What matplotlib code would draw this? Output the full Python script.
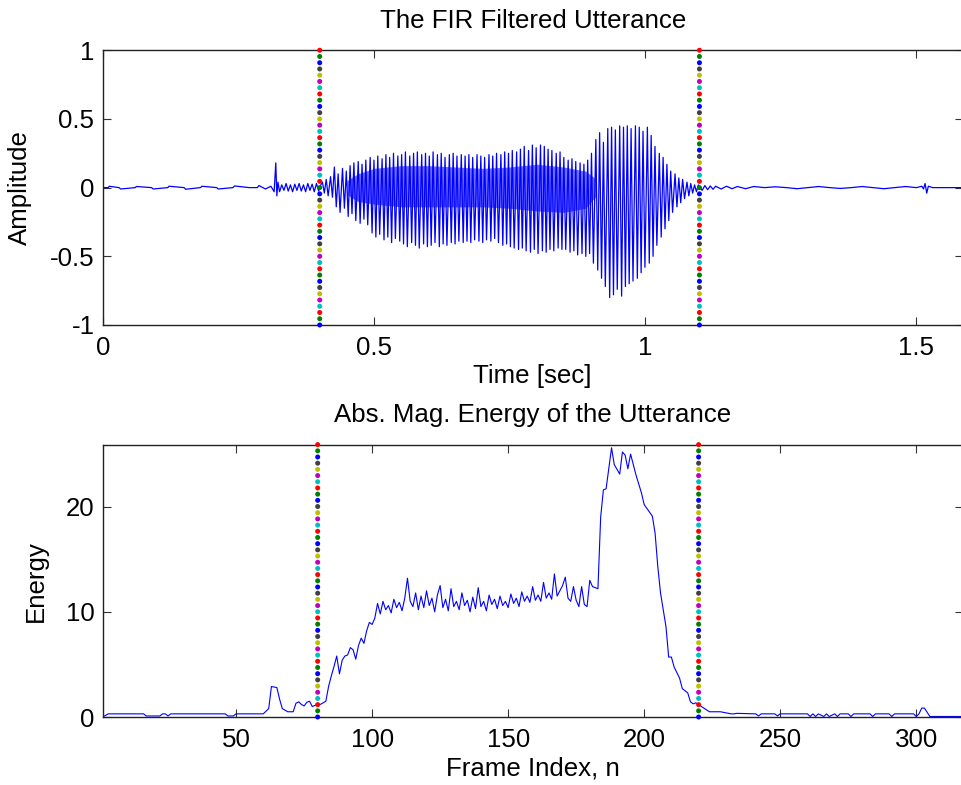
import matplotlib.pyplot as plt
import numpy as np

plt.rcParams['font.family'] = ['Liberation Sans', 'DejaVu Sans']
plt.rcParams['font.size'] = 18.6
plt.rcParams['axes.titlesize'] = 18.6
plt.rcParams['axes.labelsize'] = 18.6
plt.rcParams['axes.unicode_minus'] = False

# ---- top panel: filtered utterance ----
# silence before the word: (time, amplitude)
pre_t = [0.000, 0.010, 0.012, 0.030, 0.033, 0.060, 0.062, 0.090, 0.093, 0.120,
         0.122, 0.150, 0.153, 0.180, 0.183, 0.210, 0.213, 0.240, 0.243, 0.270,
         0.285, 0.288, 0.300, 0.310, 0.316, 0.319, 0.321, 0.323, 0.326, 0.330,
         0.334, 0.338, 0.342, 0.346, 0.350, 0.354, 0.358, 0.362, 0.366, 0.370,
         0.374, 0.378, 0.382, 0.386, 0.390, 0.394, 0.398, 0.402]
pre_a = [0.000, 0.000, 0.010, 0.000, -0.010, 0.000, 0.008, 0.000, -0.010, 0.000,
         0.010, 0.000, -0.012, 0.000, 0.010, 0.000, -0.010, 0.000, 0.012, 0.000,
         0.000, 0.015, -0.010, 0.010, -0.030, 0.180, -0.060, 0.040, -0.030, 0.020,
         -0.020, 0.030, -0.025, 0.020, -0.030, 0.025, -0.020, 0.030, -0.025, 0.020,
         -0.030, 0.030, -0.020, 0.025, -0.030, 0.030, -0.025, 0.020]

# voiced part: one up / down stroke per pitch pulse
pulse_t = [0.405, 0.412, 0.420, 0.427, 0.434, 0.442, 0.449, 0.456, 0.463, 0.471,
           0.478, 0.485, 0.493, 0.500, 0.507, 0.515, 0.522, 0.529, 0.536, 0.544,
           0.551, 0.558, 0.566, 0.573, 0.580, 0.588, 0.595, 0.602, 0.609, 0.617,
           0.624, 0.631, 0.639, 0.646, 0.653, 0.661, 0.668, 0.675, 0.682, 0.690,
           0.697, 0.704, 0.712, 0.719, 0.726, 0.734, 0.741, 0.748, 0.755, 0.763,
           0.770, 0.777, 0.785, 0.792, 0.799, 0.807, 0.814, 0.821, 0.828, 0.836,
           0.843, 0.850, 0.858, 0.865, 0.872, 0.880, 0.887, 0.894, 0.901, 0.909,
           0.916, 0.923, 0.931, 0.938, 0.945, 0.953, 0.960, 0.967, 0.974, 0.982,
           0.989, 0.996, 1.004, 1.011, 1.018, 1.026, 1.033, 1.040, 1.047, 1.055,
           1.062, 1.069, 1.077, 1.084, 1.091]
pulse_hi = [0.04, 0.06, 0.08,
            0.15, 0.10, 0.14, 0.12, 0.16,
            0.18, 0.19, 0.17, 0.20,
            0.22, 0.20, 0.23, 0.21, 0.24, 0.22, 0.25, 0.23,
            0.24, 0.26, 0.23, 0.25, 0.26, 0.24, 0.25, 0.23, 0.26, 0.24, 0.25, 0.22, 0.24, 0.25, 0.23, 0.24,
            0.23, 0.24, 0.22, 0.24, 0.23, 0.22, 0.24, 0.23, 0.25, 0.24, 0.26, 0.25, 0.27, 0.26,
            0.28, 0.30, 0.27, 0.31, 0.29, 0.31, 0.30, 0.28, 0.27, 0.25, 0.26,
            0.22, 0.20, 0.21, 0.19, 0.18, 0.17, 0.20, 0.25,
            0.35, 0.40, 0.33,
            0.43, 0.44, 0.42, 0.45, 0.44, 0.45, 0.43, 0.45, 0.44, 0.41, 0.44,
            0.38, 0.30, 0.25, 0.22, 0.17, 0.12,
            0.10, 0.07, 0.06, 0.04, 0.03, 0.02]
pulse_lo = [-0.04, -0.06, -0.07,
            -0.14, -0.18, -0.15, -0.21, -0.19,
            -0.24, -0.26, -0.23, -0.27,
            -0.33, -0.36, -0.34, -0.38, -0.36, -0.40, -0.37, -0.39,
            -0.41, -0.43, -0.40, -0.42, -0.44, -0.41, -0.43, -0.42, -0.40, -0.43, -0.41, -0.42, -0.40, -0.41, -0.39, -0.40,
            -0.39, -0.40, -0.38, -0.39, -0.40, -0.38, -0.39, -0.37, -0.40, -0.42, -0.41, -0.43, -0.44, -0.45,
            -0.44, -0.46, -0.47, -0.45, -0.48, -0.46, -0.47, -0.45, -0.46, -0.44, -0.45,
            -0.45, -0.47, -0.46, -0.49, -0.48, -0.50, -0.48, -0.55,
            -0.60, -0.66, -0.72,
            -0.80, -0.78, -0.74, -0.79, -0.72, -0.70, -0.68, -0.66, -0.62, -0.58, -0.55,
            -0.50, -0.42, -0.36, -0.30, -0.24, -0.18,
            -0.14, -0.11, -0.08, -0.06, -0.04, -0.03]

# dense core of the voiced part
core_t = [0.45, 0.47, 0.50, 0.55, 0.60, 0.65, 0.70, 0.75, 0.80, 0.85, 0.89, 0.91]
core_hi = [0.05, 0.10, 0.14, 0.16, 0.16, 0.15, 0.14, 0.15, 0.17, 0.15, 0.12, 0.06]
core_lo = [-0.05, -0.10, -0.12, -0.14, -0.14, -0.14, -0.14, -0.15, -0.17, -0.18, -0.15, -0.06]

# silence after the word
post_t = [1.098, 1.105, 1.110, 1.115, 1.120, 1.125, 1.130, 1.140, 1.150, 1.160,
          1.170, 1.185, 1.200, 1.220, 1.240, 1.260, 1.280, 1.300, 1.320, 1.340,
          1.360, 1.380, 1.400, 1.420, 1.440, 1.460, 1.480, 1.500, 1.510, 1.513,
          1.516, 1.519, 1.522, 1.530, 1.585]
post_a = [0.020, -0.020, 0.015, -0.015, 0.012, -0.012, 0.010, -0.010, 0.010, -0.008,
          0.008, -0.008, 0.008, 0.000, 0.006, 0.000, -0.008, 0.000, 0.008, 0.000,
          -0.006, 0.000, 0.008, 0.000, -0.008, 0.000, 0.008, 0.000, 0.010, -0.010,
          0.030, -0.040, 0.010, 0.000, 0.000]

# ---- bottom panel: frame energy (frame, energy) ----
energy_n = [1, 3, 16, 17, 22, 23, 24, 25, 26, 46, 47, 49, 50, 51, 60, 62, 63, 65,
            66, 67, 69, 71, 72, 73, 74, 75, 76, 77, 78, 79, 80, 81, 83, 84, 85, 86,
            87, 88, 89, 90, 91, 92, 93, 94, 95, 96, 97, 98, 99, 100, 101, 102, 103,
            104, 105, 106, 107, 108, 109, 110, 111, 112, 113, 114, 115, 116, 117,
            118, 119, 120, 121, 122, 123, 124, 125, 126, 127, 128, 129, 130, 131,
            132, 133, 134, 135, 136, 137, 138, 139, 140, 141, 142, 143, 144, 145,
            146, 147, 148, 149, 150, 151, 152, 153, 154, 155, 156, 157, 158, 159,
            160, 161, 162, 163, 164, 165, 166, 167, 168, 169, 170, 171, 172, 173,
            174, 175, 176, 177, 178, 179, 180, 181, 183, 184, 185, 186, 188, 189,
            191, 192, 193, 194, 195, 197, 199, 200, 203, 204, 205, 206, 208, 209,
            210, 211, 213, 214, 216, 217, 218, 219, 221, 224, 228, 232, 233, 234,
            241, 242, 243, 248, 249, 250, 260, 261, 262, 263, 264, 266, 267, 268,
            270, 271, 272, 275, 276, 277, 283, 284, 285, 290, 291, 292, 299, 300,
            301, 302, 303, 305, 306, 317]
energy = [0.0, 0.3, 0.3, 0.1, 0.1, 0.3, 0.3, 0.1, 0.3, 0.3, 0.1, 0.1, 0.3, 0.3, 0.3, 0.8, 2.9, 2.8,
          1.7, 0.8, 0.5, 0.5, 1.3, 1.45, 1.2, 1.05, 1.4, 1.5, 1.0, 1.1, 1.2, 1.2, 1.5, 2.9, 3.9, 4.8,
          5.8, 4.1, 5.4, 5.8, 5.9, 6.6, 6.4, 5.5, 6.8, 7.5, 7.0, 8.2, 9.0, 8.8, 9.4, 10.8, 9.8,
          11.0, 10.2, 10.6, 9.9, 11.2, 10.4, 10.9, 10.1, 11.3, 13.2, 11.0, 10.5, 11.8, 10.2,
          11.5, 10.4, 12.0, 10.6, 11.3, 10.0, 11.6, 12.5, 10.4, 11.2, 10.1, 12.2, 10.5, 11.0,
          10.2, 11.8, 10.6, 11.1, 10.0, 11.4, 10.3, 12.3, 10.5, 11.0, 10.1, 11.6, 10.7, 11.2,
          10.3, 11.5, 10.6, 11.0, 10.4, 11.7, 10.8, 11.3, 10.5, 11.9, 11.0, 11.5, 10.9, 12.4,
          11.1, 11.6, 11.0, 12.8, 11.3, 11.8, 11.2, 13.6, 11.5, 12.0, 12.5, 13.3, 11.3, 11.0,
          12.4, 11.1, 10.5, 12.4, 10.7, 10.5, 13.0, 12.4, 12.2, 19.0, 21.6, 21.7, 25.6, 24.0,
          23.1, 25.2, 24.9, 23.6, 25.0, 23.0, 21.3, 20.2, 19.1, 17.5, 14.3, 11.8, 8.6, 5.7,
          5.7, 4.75, 3.7, 2.7, 2.3, 1.45, 1.25, 1.35, 1.0, 0.5, 0.5, 0.3, 0.3, 0.35,
          0.3, 0.1, 0.3, 0.3, 0.1, 0.3, 0.3, 0.05, 0.3, 0.05, 0.3, 0.05, 0.3, 0.05,
          0.3, 0.05, 0.3, 0.3, 0.05, 0.3, 0.3, 0.05, 0.3, 0.3, 0.05, 0.3, 0.3, 0.05,
          0.3, 0.85, 0.85, 0.05, 0.05, 0.05]

bounds_time = [0.4, 1.1]
bounds_frame = [80, 220]

matlab_colors = ['#0000FF', '#008000', '#FF0000', '#00BFBF', '#BF00BF', '#BFBF00', '#404040']


def boundary(ax, x, y0, y1):
    ys = np.linspace(y0, y1, 45)
    cols = [matlab_colors[i % len(matlab_colors)] for i in range(len(ys))]
    ax.scatter(np.full(len(ys), x), ys, s=13, c=cols, zorder=3, clip_on=False, linewidths=0)


def matlab_axes(ax):
    ax.tick_params(direction='in', length=6, width=0.8, top=True, right=True,
                   labelsize=18.6, color='#333333')
    ax.tick_params(axis='x', pad=8)
    ax.tick_params(axis='y', pad=6)
    for s in ax.spines.values():
        s.set_linewidth(1.0)
        s.set_color('#222222')


fig = plt.figure(figsize=(9.61, 7.85), dpi=100)
ax1 = fig.add_axes([0.1069, 0.586, 0.8947, 0.350])
ax2 = fig.add_axes([0.1069, 0.0866, 0.8947, 0.347])

# top: waveform
wave_t = list(pre_t)
wave_a = list(pre_a)
for t, hi, lo in zip(pulse_t, pulse_hi, pulse_lo):
    wave_t += [t, t + 0.0035]
    wave_a += [hi, lo]
wave_t += post_t
wave_a += post_a
ax1.fill_between(core_t, core_lo, core_hi, color='#3030FF', linewidth=0, alpha=0.7)
ax1.plot(wave_t, wave_a, color='#0000FF', linewidth=0.9)
for b in bounds_time:
    boundary(ax1, b, -1, 1)
ax1.set_xlim(0, 1.585)
ax1.set_ylim(-1, 1)
ax1.set_xticks([0, 0.5, 1, 1.5])
ax1.set_xticklabels(['0', '0.5', '1', '1.5'])
ax1.set_yticks([-1, -0.5, 0, 0.5, 1])
ax1.set_yticklabels(['-1', '-0.5', '0', '0.5', '1'])
ax1.set_xlabel('Time [sec]', labelpad=3)
ax1.set_ylabel('Amplitude', labelpad=13)
ax1.set_title('The FIR Filtered Utterance', pad=16)
matlab_axes(ax1)

# bottom: energy
ax2.plot(energy_n, energy, color='#0000FF', linewidth=0.8)
for b in bounds_frame:
    boundary(ax2, b, 0, 25.9)
ax2.set_xlim(1, 317)
ax2.set_ylim(0, 25.9)
ax2.set_xticks([50, 100, 150, 200, 250, 300])
ax2.set_yticks([0, 10, 20])
ax2.set_xlabel('Frame Index, n', labelpad=3)
ax2.set_ylabel('Energy', labelpad=13)
ax2.set_title('Abs. Mag. Energy of the Utterance', pad=16)
matlab_axes(ax2)

fig.savefig('out.png', dpi=100)
